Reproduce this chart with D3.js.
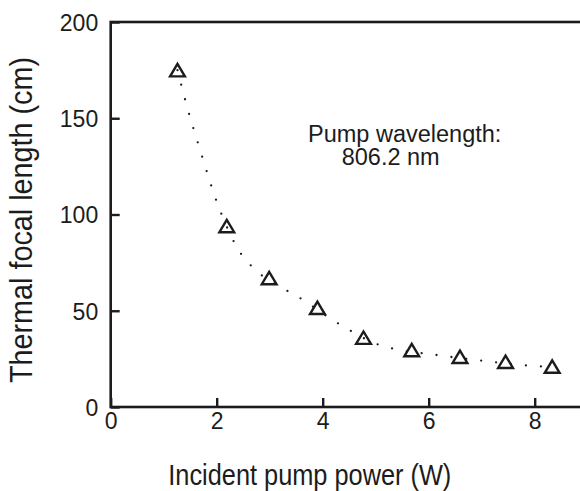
<!DOCTYPE html>
<html>
<head>
<meta charset="utf-8">
<script src="https://cdn.jsdelivr.net/npm/d3@7"></script>
<style>
  body { margin: 0; background: #fff; }
  svg { display: block; }
  text { font-family: "Liberation Sans", Arial, sans-serif; fill: #1c1c1c; }
</style>
</head>
<body>
<div id="chart"></div>
<script>
// measured points (triangles)
var power = [1.26, 2.19, 2.99, 3.90, 4.77, 5.68, 6.59, 7.45, 8.33];
var focal = [175, 94, 67, 51.5, 36, 29.6, 26.1, 23.5, 21];

// dotted guide curve
var fitPower = [1.26, 1.42, 1.67, 2.05, 2.46, 2.72, 3.29, 3.58, 4.14, 4.44, 5.02, 5.30, 6.15, 7.02, 7.88, 8.33];
var fitFocal = [175, 158, 135, 103, 79.5, 71.5, 61, 56.5, 46, 41, 32.7, 30.5, 27, 24, 21.5, 20.8];

var xTicks = [0, 2, 4, 6, 8];
var yTicks = [0, 50, 100, 150, 200];

var W = 580, H = 491;
var svg = d3.select("#chart").append("svg").attr("width", W).attr("height", H);

var x = d3.scaleLinear().domain([0, 9]).range([110.7, 587.7]);
var y = d3.scaleLinear().domain([0, 200]).range([407, 22]);

var ink = "#1c1c1c";

// frame
svg.append("rect")
    .attr("x", x(0)).attr("y", y(200))
    .attr("width", x(9) - x(0)).attr("height", y(0) - y(200))
    .attr("fill", "none").attr("stroke", ink).attr("stroke-width", 2.6);

var xAxis = svg.append("g")
    .attr("transform", "translate(0," + y(0) + ")")
    .call(d3.axisBottom(x).tickValues(xTicks).tickSizeInner(-9).tickSizeOuter(0).tickPadding(0));
xAxis.select(".domain").remove();
xAxis.selectAll("line").attr("stroke", ink).attr("stroke-width", 2.4);
xAxis.selectAll("text")
    .attr("y", 22).attr("dy", 0)
    .style("font-size", "23px");

var yAxis = svg.append("g")
    .attr("transform", "translate(" + x(0) + ",0)")
    .call(d3.axisLeft(y).tickValues(yTicks).tickSizeInner(-9).tickSizeOuter(0).tickPadding(0));
yAxis.select(".domain").remove();
yAxis.selectAll("line").attr("stroke", ink).attr("stroke-width", 2.4);
yAxis.selectAll("text")
    .attr("x", -12.5).attr("dy", "0.36em")
    .style("font-size", "23px");

// dotted curve
var fitData = fitPower.map(function(p, i) { return [p, fitFocal[i]]; });
var line = d3.line()
    .x(function(d) { return x(d[0]); })
    .y(function(d) { return y(d[1]); })
    .curve(d3.curveMonotoneX);
svg.append("path")
    .datum(fitData)
    .attr("d", line)
    .attr("fill", "none")
    .attr("stroke", ink)
    .attr("stroke-width", 2.3)
    .attr("stroke-linecap", "round")
    .attr("stroke-dasharray", "0,15");

// triangle markers
var tri = "M0,-6.2L7.4,6.2L-7.4,6.2Z";
svg.append("g").selectAll("path")
    .data(power)
    .enter()
    .append("path")
    .attr("d", tri)
    .attr("transform", function(d, i) { return "translate(" + x(d) + "," + y(focal[i]) + ")"; })
    .attr("fill", "none")
    .attr("stroke", ink)
    .attr("stroke-width", 2.4)
    .attr("stroke-linejoin", "miter");

// annotation
svg.append("text").attr("x", 308).attr("y", 141.7)
    .style("font-size", "23.5px").text("Pump wavelength:");
svg.append("text").attr("x", 341.7).attr("y", 165)
    .style("font-size", "23.5px").text("806.2 nm");

// axis titles
svg.append("text")
    .attr("x", 168.3).attr("y", 485)
    .attr("textLength", 283).attr("lengthAdjust", "spacingAndGlyphs")
    .style("font-size", "30px")
    .text("Incident pump power (W)");

svg.append("text")
    .attr("transform", "translate(31.5,383) rotate(-90)")
    .attr("textLength", 326).attr("lengthAdjust", "spacingAndGlyphs")
    .style("font-size", "31px")
    .text("Thermal focal length (cm)");
</script>
</body>
</html>
